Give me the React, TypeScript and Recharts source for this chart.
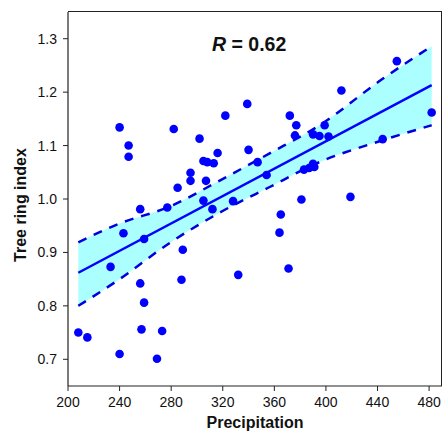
import React from 'react'
import {
  ComposedChart,
  Scatter,
  Line,
  Area,
  XAxis,
  YAxis,
  Label,
} from 'recharts'

const precip = [
  208, 215, 240, 257, 273, 269, 259, 256, 233, 289, 288, 332, 243, 259, 256,
  277, 285, 240, 247, 247, 282, 302, 322, 339, 372, 377, 376, 340, 316, 305,
  308, 313, 347, 295, 295, 307, 354, 305, 312, 328, 381, 365, 364, 371, 419,
  399, 390, 395, 402, 444, 482, 383, 387, 390, 391, 412, 455,
]
const ringIndex = [
  0.75, 0.741, 0.71, 0.756, 0.753, 0.701, 0.806, 0.842, 0.873, 0.905, 0.849,
  0.858, 0.936, 0.925, 0.981, 0.984, 1.021, 1.134, 1.1, 1.079, 1.131, 1.113,
  1.156, 1.178, 1.156, 1.138, 1.119, 1.092, 1.086, 1.071, 1.069, 1.067, 1.069,
  1.049, 1.034, 1.034, 1.045, 0.997, 0.981, 0.996, 0.999, 0.971, 0.937, 0.87,
  1.004, 1.138, 1.121, 1.118, 1.117, 1.112, 1.162, 1.055, 1.058, 1.066, 1.06,
  1.203, 1.258,
]

// regression line ends and confidence band
const fitX = [208, 482]
const fitY = [0.862, 1.213]
const bandX = [208, 240, 279, 318, 356, 395, 444, 482]
const bandLow = [0.8, 0.85, 0.918, 0.975, 1.022, 1.069, 1.11, 1.138]
const bandHigh = [0.919, 0.954, 0.986, 1.035, 1.085, 1.138, 1.225, 1.286]

const xTicks = [200, 240, 280, 320, 360, 400, 440, 480]
const yTicks = [0.7, 0.8, 0.9, 1.0, 1.1, 1.2, 1.3]

const points = precip.map((x, i) => ({ x, y: ringIndex[i] }))
const fitData = fitX.map((x, i) => ({ x, y: fitY[i] }))
const bandData = bandX.map((x, i) => ({
  x,
  low: bandLow[i],
  high: bandHigh[i],
  band: [bandLow[i], bandHigh[i]],
}))

const font = '"Liberation Sans", Arial, sans-serif'
const tickStyle = { fontSize: 14, fill: '#111', fontFamily: font }

const Dot = (p: any) => <circle cx={p.cx} cy={p.cy} r={4.3} fill="#0000ff" />

export default function App() {
  return (
    <div
      style={{
        position: 'absolute',
        left: 0,
        top: 0,
        width: 443,
        height: 431,
        overflow: 'hidden',
        fontFamily: font,
      }}
    >
      <ComposedChart
        width={443}
        height={431}
        data={bandData}
        margin={{ top: 12, right: 1, left: 0, bottom: 0 }}
      >
        <XAxis
          dataKey="x"
          type="number"
          domain={[200, 490]}
          ticks={xTicks}
          tick={tickStyle}
          tickSize={5}
          tickMargin={6}
          height={45}
          axisLine={{ stroke: '#222', strokeWidth: 1.2 }}
          tickLine={{ stroke: '#222' }}
        >
          <Label
            value="Precipitation"
            position="insideBottom"
            offset={3}
            style={{ fontSize: 16, fontWeight: 'bold', fill: '#111', fontFamily: font }}
          />
        </XAxis>
        <YAxis
          type="number"
          domain={[0.65, 1.35]}
          ticks={yTicks}
          tickFormatter={(v: number) => v.toFixed(1)}
          tick={tickStyle}
          tickSize={5}
          tickMargin={6}
          width={68}
          axisLine={{ stroke: '#222', strokeWidth: 1.2 }}
          tickLine={{ stroke: '#222' }}
        >
          <Label
            value="Tree ring index"
            angle={-90}
            position="insideLeft"
            offset={20}
            dy={6}
            style={{ fontSize: 16, fontWeight: 'bold', fill: '#111', textAnchor: 'middle', fontFamily: font }}
          />
        </YAxis>
        <Scatter data={points} dataKey="y" shape={Dot} isAnimationActive={false} />
        <Line
          data={fitData}
          dataKey="y"
          stroke="#0000ff"
          strokeWidth={2.5}
          dot={false}
          isAnimationActive={false}
        />
        <Area
          dataKey="band"
          type="monotone"
          stroke="none"
          fill="#00ffff"
          fillOpacity={0.33}
          isAnimationActive={false}
        />
        <Line
          dataKey="high"
          type="monotone"
          stroke="#0000dd"
          strokeWidth={2.5}
          strokeDasharray="9 8"
          dot={false}
          isAnimationActive={false}
        />
        <Line
          dataKey="low"
          type="monotone"
          stroke="#0000dd"
          strokeWidth={2.5}
          strokeDasharray="9 8"
          dot={false}
          isAnimationActive={false}
        />
      </ComposedChart>
      {/* top and right edges of the plot frame */}
      <div
        style={{
          position: 'absolute',
          left: 68,
          top: 11,
          width: 373,
          height: 374,
          borderTop: '1.2px solid #222',
          borderRight: '1.2px solid #222',
          pointerEvents: 'none',
        }}
      />
      <div
        style={{
          position: 'absolute',
          left: 212,
          top: 35,
          fontSize: 19.5,
          lineHeight: '19px',
          fontWeight: 'bold',
          color: '#111',
          whiteSpace: 'nowrap',
        }}
      >
        <i>R</i> = 0.62
      </div>
    </div>
  )
}
